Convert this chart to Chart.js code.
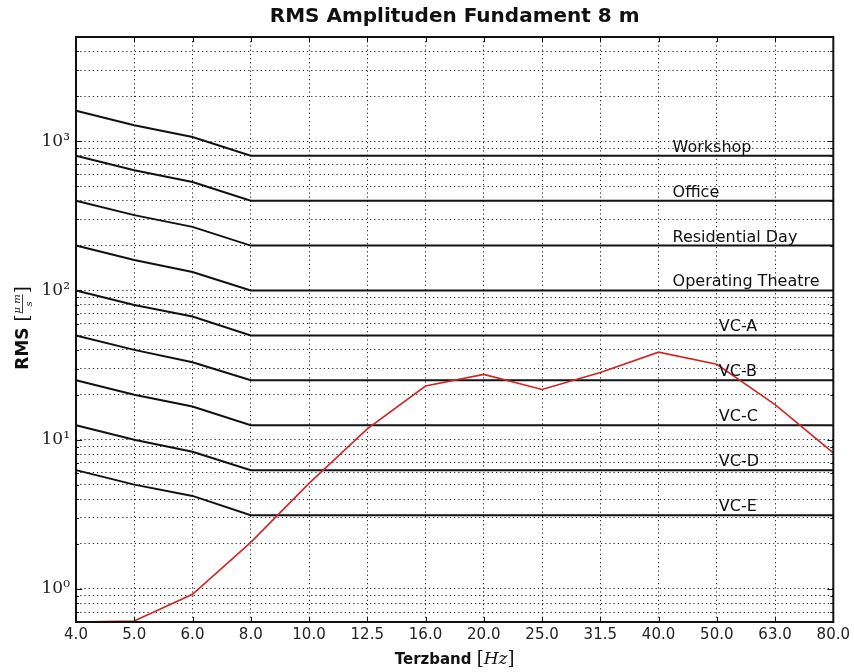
<!DOCTYPE html>
<html>
<head>
<meta charset="utf-8">
<script src="https://cdn.jsdelivr.net/npm/chart.js@4.4.1/dist/chart.umd.min.js"></script>
<style>
  html, body { margin:0; padding:0; background:#fff; }
  #wrap { width:854px; height:672px; }
</style>
</head>
<body>
<div id="wrap"><canvas id="chartRms"></canvas></div>
<script>
// Terzbaender (Hz)
const terzband = ['4.0','5.0','6.0','8.0','10.0','12.5','16.0','20.0','25.0','31.5','40.0','50.0','63.0','80.0'];

// Kriterienkurven (um/s)
const workshop    = [1600,1280,1067,800,800,800,800,800,800,800,800,800,800,800];
const office      = [800,640,533,400,400,400,400,400,400,400,400,400,400,400];
const residential = [400,320,267,200,200,200,200,200,200,200,200,200,200,200];
const operating   = [200,160,133,100,100,100,100,100,100,100,100,100,100,100];
const vcA = [100,80,67,50,50,50,50,50,50,50,50,50,50,50];
const vcB = [50,40,33,25,25,25,25,25,25,25,25,25,25,25];
const vcC = [25,20,16.7,12.5,12.5,12.5,12.5,12.5,12.5,12.5,12.5,12.5,12.5,12.5];
const vcD = [12.5,10,8.3,6.25,6.25,6.25,6.25,6.25,6.25,6.25,6.25,6.25,6.25,6.25];
const vcE = [6.25,5,4.2,3.12,3.12,3.12,3.12,3.12,3.12,3.12,3.12,3.12,3.12,3.12];

// Messung Fundament 8 m
const gemessen = [0.6,0.61,0.92,2.05,5.1,11.8,22.9,27.4,21.7,28.2,38.6,32,17.2,8.15];

// y-Achse
const yMin = 0.6, yMax = 5000;
const dekaden = [0.1, 1, 10, 100, 1000];
const faktoren = [1,2,3,4,5,6,7,8,9];
const yBeschriftung = {1:'10⁰', 10:'10¹', 100:'10²', 1000:'10³'};

let yGitter = [];
dekaden.forEach(d => faktoren.forEach(f => {
  const v = Math.round(d * f * 1000) / 1000;
  if (v >= yMin && v <= yMax) yGitter.push(v);
}));

const kurven = [workshop, office, residential, operating, vcA, vcB, vcC, vcD, vcE];
const kurvenNamen = ['Workshop','Office','Residential Day','Operating Theatre','VC-A','VC-B','VC-C','VC-D','VC-E'];

// wo die Namen stehen (Kategorie-Index + Versatz in px)
const namenPos = [
  {idx:10, dx:14}, {idx:10, dx:14}, {idx:10, dx:14}, {idx:10, dx:14},
  {idx:11, dx:2}, {idx:11, dx:2}, {idx:11, dx:2}, {idx:11, dx:2}, {idx:11, dx:2}
];

const kurvenNamenPlugin = {
  id: 'kurvenNamen',
  afterDatasetsDraw(chart) {
    const ctx = chart.ctx;
    const x = chart.scales.x, y = chart.scales.y;
    ctx.save();
    ctx.font = '16px "DejaVu Sans"';
    ctx.fillStyle = '#111';
    ctx.textAlign = 'left';
    ctx.textBaseline = 'alphabetic';
    kurven.forEach((k, i) => {
      const p = namenPos[i];
      ctx.fillText(kurvenNamen[i], x.getPixelForValue(p.idx) + p.dx, y.getPixelForValue(k[p.idx]) - 4);
    });
    ctx.restore();
  }
};

// Rahmen + Striche nach innen (matplotlib-artig)
const rahmenPlugin = {
  id: 'rahmen',
  afterDatasetsDraw(chart) {
    const {ctx, chartArea: a} = chart;
    const x = chart.scales.x, y = chart.scales.y;
    ctx.save();
    ctx.strokeStyle = '#111';
    ctx.lineWidth = 1;
    ctx.beginPath();
    terzband.forEach((t, i) => {
      const px = Math.round(x.getPixelForValue(i)) + 0.5;
      ctx.moveTo(px, a.bottom); ctx.lineTo(px, a.bottom - 5);
      ctx.moveTo(px, a.top); ctx.lineTo(px, a.top + 5);
    });
    yGitter.forEach(v => {
      const py = Math.round(y.getPixelForValue(v)) + 0.5;
      const l = yBeschriftung[v] ? 6 : 3;
      ctx.moveTo(a.left, py); ctx.lineTo(a.left + l, py);
      ctx.moveTo(a.right, py); ctx.lineTo(a.right - l, py);
    });
    ctx.stroke();
    ctx.lineWidth = 2;
    ctx.strokeRect(a.left, a.top, a.right - a.left, a.bottom - a.top);
    ctx.restore();
  }
};

const achsenTitelPlugin = {
  id: 'achsenTitel',
  afterDraw(chart) {
    const {ctx, chartArea: a} = chart;
    ctx.save();
    ctx.fillStyle = '#111';
    ctx.textBaseline = 'alphabetic';
    ctx.textAlign = 'left';

    // x-Achse
    const teile = [
      ['Terzband ', 'bold 15px "DejaVu Sans"'],
      ['[', '18px "DejaVu Serif"'],
      ['Hz', 'italic 17px "DejaVu Serif"'],
      [']', '18px "DejaVu Serif"']
    ];
    let breite = 0;
    teile.forEach(([t, f]) => { ctx.font = f; breite += ctx.measureText(t).width; });
    let px = (a.left + a.right) / 2 - breite / 2;
    teile.forEach(([t, f]) => { ctx.font = f; ctx.fillText(t, px, 664); px += ctx.measureText(t).width; });

    // y-Achse, gedreht
    ctx.translate(28, 328);
    ctx.rotate(-Math.PI / 2);
    const rms = 'RMS ';
    ctx.font = 'bold 17px "DejaVu Sans"';
    const wRms = ctx.measureText(rms).width;
    ctx.font = '18px "DejaVu Serif"';
    const wKl = ctx.measureText('[').width;
    ctx.font = 'italic 10px "DejaVu Serif"';
    const wZ = ctx.measureText('μ m').width + 2;
    const gesamt = wRms + 2 * wKl + wZ;
    let qx = -gesamt / 2;
    ctx.font = 'bold 17px "DejaVu Sans"';
    ctx.fillText(rms, qx, 0); qx += wRms;
    ctx.font = '18px "DejaVu Serif"';
    ctx.fillText('[', qx, 0); qx += wKl;
    ctx.font = 'italic 10px "DejaVu Serif"';
    ctx.textAlign = 'center';
    ctx.fillText('μ m', qx + wZ / 2, -8);
    ctx.fillText('s', qx + wZ / 2, 4);
    ctx.fillRect(qx + 1, -6, wZ - 2, 0.8);
    ctx.textAlign = 'left';
    qx += wZ;
    ctx.font = '18px "DejaVu Serif"';
    ctx.fillText(']', qx, 0);
    ctx.restore();
  }
};

const datasets = [{
  data: gemessen,
  borderColor: '#d42323',
  borderWidth: 1.6,
  pointRadius: 0,
  tension: 0,
  order: 0
}];
kurven.forEach(k => datasets.push({
  data: k,
  borderColor: '#111',
  borderWidth: 2,
  pointRadius: 0,
  tension: 0,
  order: 1
}));

new Chart(document.getElementById('chartRms'), {
  type: 'line',
  data: { labels: terzband, datasets: datasets },
  options: {
    responsive: true,
    maintainAspectRatio: false,
    animation: false,
    layout: { padding: { left: 0, right: 20, top: 0, bottom: 0 } },
    plugins: {
      legend: { display: false },
      tooltip: { enabled: false },
      title: {
        display: true,
        fullSize: false,
        text: 'RMS Amplituden Fundament 8 m',
        color: '#111',
        font: { family: 'DejaVu Sans', size: 20, weight: 'bold' },
        padding: { top: 5, bottom: 8 }
      }
    },
    scales: {
      x: {
        type: 'category',
        offset: false,
        afterFit(scale) { scale.height = 50; },
        grid: { color: '#222', lineWidth: 1, drawTicks: false },
        border: { display: false, dash: [1.2, 3] },
        ticks: {
          color: '#222',
          padding: 4,
          maxRotation: 0,
          autoSkip: false,
          font: { family: 'DejaVu Sans', size: 15 }
        }
      },
      y: {
        type: 'logarithmic',
        min: yMin,
        max: yMax,
        afterFit(scale) { scale.width = 76; },
        afterBuildTicks(scale) { scale.ticks = yGitter.map(v => ({ value: v })); },
        grid: { color: '#222', lineWidth: 1, drawTicks: false },
        border: { display: false, dash: [1.2, 3] },
        ticks: {
          color: '#222',
          padding: 6,
          autoSkip: false,
          font: { family: 'DejaVu Serif', size: 17 },
          callback: v => yBeschriftung[v] || ''
        }
      }
    }
  },
  plugins: [kurvenNamenPlugin, rahmenPlugin, achsenTitelPlugin]
});
</script>
</body>
</html>
